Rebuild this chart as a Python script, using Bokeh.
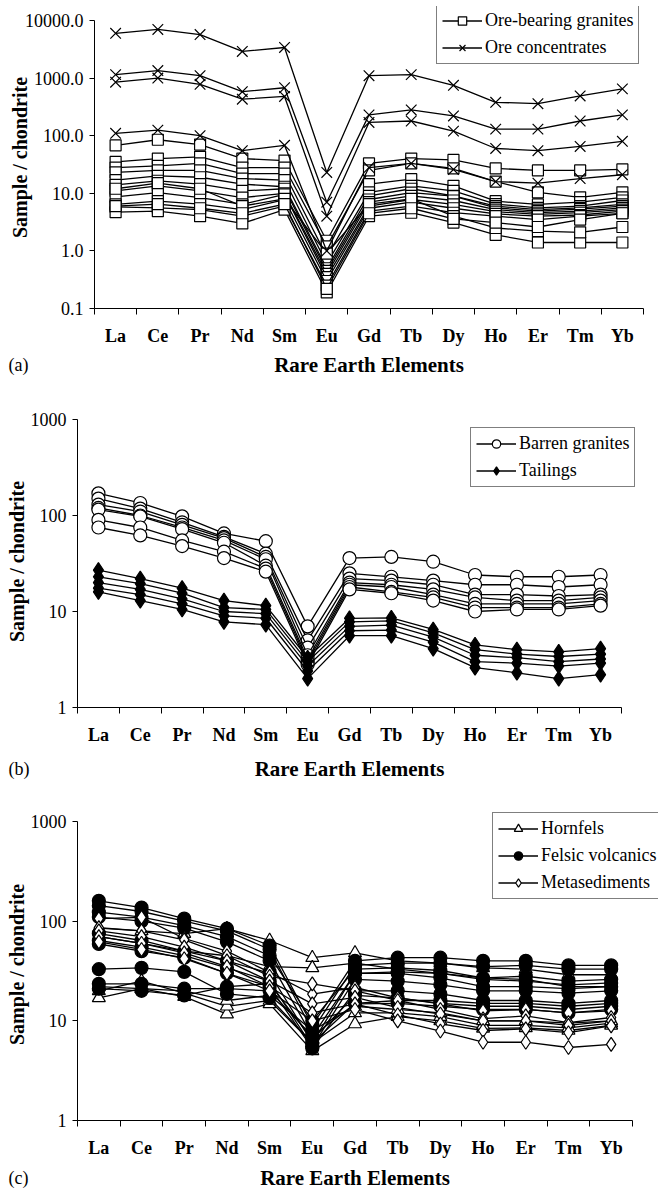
import math
from bokeh.plotting import figure
from bokeh.models import Range1d, FixedTicker, PrintfTickFormatter, Legend, LegendItem
from bokeh.layouts import column, row
from bokeh.core.properties import value
from bokeh.embed import file_html
from bokeh.resources import INLINE

SERIF = "Liberation Serif"
PAGE_W = 658

elements = ["La", "Ce", "Pr", "Nd", "Sm", "Eu", "Gd", "Tb", "Dy", "Ho", "Er", "Tm", "Yb"]

# ---------------- Panel (a) ----------------
ore_bearing_granites = [
    [68, 85, 70, 40, 37, 1.5, 33, 40, 38, 27, 25, 25, 26],
    [35, 40, 43, 28, 28, 1.2, 25, 33, 27, 16, 10.4, 8.5, 10.4],
    [28, 30, 33, 22, 22, 0.8, 14.4, 17.6, 13.5, 7.3, 6.4, 7, 8.5],
    [23, 25, 25, 18, 17, 0.6, 10.4, 13.5, 11, 6.5, 5.6, 6, 7.5],
    [17, 20, 19, 14.4, 13, 0.5, 9, 12, 9, 6, 5.2, 5.6, 6.4],
    [14, 16.5, 14.4, 11, 12, 0.45, 7.8, 10.3, 8.9, 5.6, 4.9, 5.3, 6],
    [11, 13.5, 11, 8.4, 10, 0.4, 7, 9, 7.5, 5.2, 4.6, 4.9, 5.6],
    [8.7, 10.3, 8.4, 6.4, 9.6, 0.35, 6, 7.8, 6.4, 4.8, 4.3, 4.6, 5.2],
    [6.4, 7.3, 6.5, 5.2, 7.8, 0.3, 5.5, 7, 5.5, 4.4, 4, 4.2, 4.9],
    [5.8, 5.6, 5.2, 4.0, 6, 0.25, 4.9, 6, 4.6, 4, 3.5, 4, 4.5],
    [4.7, 4.9, 4.0, 3.0, 5.2, 0.19, 4.0, 4.6, 3.1, 1.9, 1.4, 1.4, 1.4],
    [12, 15, 12, 6, 8, 0.9, 6.5, 8, 4, 2.5, 2.2, 2.1, 2.6],
    [6, 6.5, 5.5, 4.5, 6.5, 0.22, 4.5, 5.5, 3.6, 3.1, 2.6, 3.5, 4.5],
]
ore_concentrates = [
    [6000, 7000, 5700, 2900, 3400, 23, 1100, 1150, 750, 380, 360, 490, 650],
    [1150, 1350, 1100, 580, 680, 7, 230, 280, 220, 130, 130, 180, 230],
    [850, 1000, 780, 430, 480, 4, 170, 180, 120, 60, 55, 65, 80],
    [110, 125, 100, 55, 68, 1.0, 28, 33, 26, 16, 15, 18, 21],
]

# ---------------- Panel (b) ----------------
barren_granites = [
    [170, 135, 98, 65, 54, 7.0, 36, 37, 33, 24, 23, 23, 24],
    [150, 118, 85, 60, 40, 5.0, 25, 23, 21, 19, 19, 18, 19],
    [130, 110, 80, 58, 37, 4.2, 22, 21, 19, 15, 15, 14.5, 15],
    [120, 100, 75, 55, 35, 3.5, 20, 19, 17, 14, 13, 13, 14],
    [115, 98, 72, 52, 30, 3.2, 19, 18, 15, 12, 12, 12, 13],
    [90, 75, 55, 42, 28, 3.0, 18, 16, 14, 11, 11, 11, 12],
    [75, 62, 48, 36, 26, 2.8, 17, 15.5, 13, 10, 10.5, 10.5, 11.5],
]
tailings = [
    [27, 22, 17.5, 13, 11.5, 3.3, 8.5, 8.6, 6.5, 4.5, 4.0, 3.8, 4.1],
    [23, 19.5, 15.5, 11, 10.5, 3.0, 7.8, 8.0, 6.0, 4.0, 3.6, 3.4, 3.6],
    [20, 17, 13.5, 10, 9.5, 2.7, 7.0, 7.2, 5.4, 3.5, 3.3, 3.0, 3.2],
    [17.5, 15, 12, 9, 8.5, 2.4, 6.3, 6.4, 4.8, 3.0, 2.9, 2.7, 2.9],
    [16, 13, 10.5, 7.8, 7.3, 2.0, 5.6, 5.6, 4.1, 2.6, 2.3, 2.0, 2.2],
]

# ---------------- Panel (c) ----------------
hornfels = [
    [85, 80, 75, 84, 64, 43, 48, 40, 38, 34, 33, 29, 29],
    [70, 60, 50, 45, 35, 34, 38, 33, 30, 27, 26, 22, 22],
    [17, 21, 17.5, 11.7, 14.8, 5, 9.3, 11, 10, 8.4, 8.5, 8, 9],
    [20, 25, 19, 14, 16, 6, 12, 12, 11, 9, 9, 8.5, 9.5],
    [22, 21, 20, 16, 18, 8, 14, 13, 12, 10, 10, 9.5, 10],
]
felsic_volcanics = [
    [160, 137, 106, 84, 57, 9, 40, 43, 43, 40, 40, 36, 36],
    [143, 125, 100, 80, 52, 8, 36, 38, 38, 35, 36, 33, 33],
    [123, 110, 90, 70, 45, 10, 33, 34, 32, 27, 28, 25, 26],
    [110, 100, 85, 62, 40, 7, 30, 31, 30, 26, 25, 23, 24],
    [75, 64, 50, 40, 30, 6, 30, 30, 27, 22, 22, 21, 22],
    [64, 55, 45, 34, 25, 5.5, 26, 25, 23, 20, 20, 19, 20],
    [59, 50, 43, 30, 22, 5.3, 20, 20, 18.6, 16, 16, 15, 16],
    [33, 34, 31, 18.6, 17, 6, 15, 16, 16, 15, 15, 14, 15],
    [23.5, 23.5, 21, 21, 20, 7, 14.8, 15, 14, 13, 13, 12, 13],
    [21, 20, 18, 22, 23.5, 6.5, 18, 17, 15, 14, 14, 13, 14],
]
metasediments = [
    [106, 109, 67, 50, 30.6, 18.5, 21.6, 17, 14.8, 12.6, 13, 12, 12.6],
    [86, 80, 65, 45, 28, 23.5, 20, 16, 13, 10.5, 11.2, 9.6, 10.8],
    [80, 70, 55, 40, 25, 14.8, 17.2, 13.6, 11.7, 10, 10, 9, 10],
    [70, 60, 48, 35, 22, 12, 14.8, 11.5, 9.3, 8, 8.3, 7.6, 8.9],
    [62, 52, 42, 30, 20, 10, 13, 10, 7.9, 6.1, 6.1, 5.4, 5.8],
]

a_ticks = [0.1, 1, 10, 100, 1000, 10000]
bc_ticks = [1, 10, 100, 1000]

x_pos = [i + 0.5 for i in range(len(elements))]
x_bounds = list(range(len(elements) + 1))


def helper_fig(w, h):
    f = figure(width=w, height=h, x_range=Range1d(0, w), y_range=Range1d(0, h),
               x_axis_location=None, y_axis_location=None, output_backend="svg",
               toolbar_location=None, min_border=0, min_border_left=0,
               min_border_right=0, min_border_top=0, min_border_bottom=0)
    f.outline_line_color = None
    f.grid.visible = False
    f.background_fill_color = "white"
    f.border_fill_color = "white"
    return f


def make_panel(letter, groups, y_lo, y_hi, ticks, fmt, top, frame_top, ax_top, ax_bot,
               main_bottom, bottom, ax_left, ax_right, legend_left, legend_bottom,
               ylab_standoff, xlab_y, letter_x):
    L = ax_left
    T = frame_top - top
    B = main_bottom - ax_bot
    Hm = main_bottom - top
    ncat = len(elements)
    cat_w = (ax_right - ax_left) / ncat
    x_end = (PAGE_W - ax_left) / cat_w
    dec_px = (ax_bot - ax_top) / (math.log10(y_hi) - math.log10(y_lo))
    y_end = 10 ** (math.log10(y_hi) + (ax_top - frame_top) / dec_px)

    p = figure(width=PAGE_W, height=Hm, y_axis_type="log",
               x_range=Range1d(0, x_end), y_range=Range1d(y_lo, y_end),
               output_backend="svg", toolbar_location=None,
               min_border_left=L, min_border_right=0, min_border_top=T,
               min_border_bottom=B)
    p.outline_line_color = None
    p.xgrid.visible = False
    p.ygrid.visible = False
    p.background_fill_color = "white"
    p.border_fill_color = "white"

    ya = p.yaxis[0]
    ya.bounds = (y_lo, y_hi)
    ya.ticker = FixedTicker(ticks=ticks, minor_ticks=[])
    ya.formatter = PrintfTickFormatter(format=fmt)
    ya.major_tick_out = 5
    ya.major_tick_in = 0
    ya.minor_tick_out = 0
    ya.minor_tick_in = 0
    ya.axis_line_color = "black"
    ya.major_tick_line_color = "black"
    ya.major_label_text_font = SERIF
    ya.major_label_text_font_size = "18px"
    ya.major_label_text_color = "black"
    ya.major_label_standoff = 6
    ya.axis_label = "Sample / chondrite"
    ya.axis_label_text_font = SERIF
    ya.axis_label_text_font_style = "bold"
    ya.axis_label_text_font_size = "20px"
    ya.axis_label_text_color = "black"
    ya.axis_label_standoff = ylab_standoff

    xa = p.xaxis[0]
    xa.bounds = (0, ncat)
    xa.ticker = FixedTicker(ticks=x_pos, minor_ticks=x_bounds)
    xa.major_label_overrides = {x: e for x, e in zip(x_pos, elements)}
    xa.major_tick_out = 0
    xa.major_tick_in = 0
    xa.minor_tick_out = 6
    xa.minor_tick_in = 0
    xa.minor_tick_line_color = "black"
    xa.axis_line_color = "black"
    xa.major_label_text_font = SERIF
    xa.major_label_text_font_style = "bold"
    xa.major_label_text_font_size = "18px"
    xa.major_label_text_color = "black"
    xa.major_label_standoff = 11

    items = []
    for name, data, marker, fill, size in groups:
        first = None
        for vals in data:
            rl = p.line(x_pos, vals, line_color="black", line_width=1.3)
            rs = p.scatter(x_pos, vals, marker=marker, size=size, fill_color=fill,
                           line_color="black", line_width=1.2)
            if first is None:
                first = (rl, rs)
        items.append(LegendItem(label=name, renderers=list(first)))

    legend = Legend(items=items, location=(legend_left - ax_left, ax_bot - legend_bottom),
                    orientation="vertical",
                    border_line_color="black", border_line_width=1,
                    background_fill_color="white", background_fill_alpha=1.0,
                    label_text_font=SERIF, label_text_font_size="18px",
                    label_text_color="black",
                    glyph_width=40, glyph_height=21, label_height=21,
                    spacing=6, padding=5, margin=0, label_standoff=3)
    p.add_layout(legend)

    # x-axis title and panel letter (bottom strip)
    Hc = bottom - main_bottom
    cap = helper_fig(PAGE_W, Hc)
    cap.text(x=[(ax_left + ax_right) / 2], y=[bottom - xlab_y], text=["Rare Earth Elements"],
             text_align="center", text_baseline="middle", text_font=value(SERIF),
             text_font_style="bold", text_font_size="21px", text_color="black")
    cap.text(x=[letter_x], y=[bottom - xlab_y], text=[letter],
             text_align="left", text_baseline="middle", text_font=value(SERIF),
             text_font_style="normal", text_font_size="18px", text_color="black")

    return column(row(p, spacing=0), row(cap, spacing=0), spacing=0)


pa = make_panel("(a)",
                [("Ore-bearing granites", ore_bearing_granites, "square", "white", 11),
                 ("Ore concentrates", ore_concentrates, "x", "white", 15)],
                0.1, 10000, a_ticks, "%.1f",
                top=0, frame_top=6, ax_top=20, ax_bot=308, main_bottom=350, bottom=385,
                ax_left=94, ax_right=643, legend_left=436, legend_bottom=64,
                ylab_standoff=-9, xlab_y=364, letter_x=8)

pb = make_panel("(b)",
                [("Barren granites", barren_granites, "circle", "white", 13),
                 ("Tailings", tailings, "diamond", "black", 15)],
                1, 1000, bc_ticks, "%d",
                top=385, frame_top=415, ax_top=419, ax_bot=707, main_bottom=752, bottom=790,
                ax_left=77, ax_right=621, legend_left=470, legend_bottom=487,
                ylab_standoff=0, xlab_y=768, letter_x=8)

pc = make_panel("(c)",
                [("Hornfels", hornfels, "triangle", "white", 13),
                 ("Felsic volcanics", felsic_volcanics, "circle", "black", 13),
                 ("Metasediments", metasediments, "diamond", "white", 14)],
                1, 1000, bc_ticks, "%d",
                top=790, frame_top=808, ax_top=821, ax_bot=1120, main_bottom=1163, bottom=1188,
                ax_left=77, ax_right=632, legend_left=492, legend_bottom=899,
                ylab_standoff=0, xlab_y=1177, letter_x=8)

layout = column(pa, pb, pc, spacing=0)
open("out.html", "w").write(file_html(layout, INLINE))
